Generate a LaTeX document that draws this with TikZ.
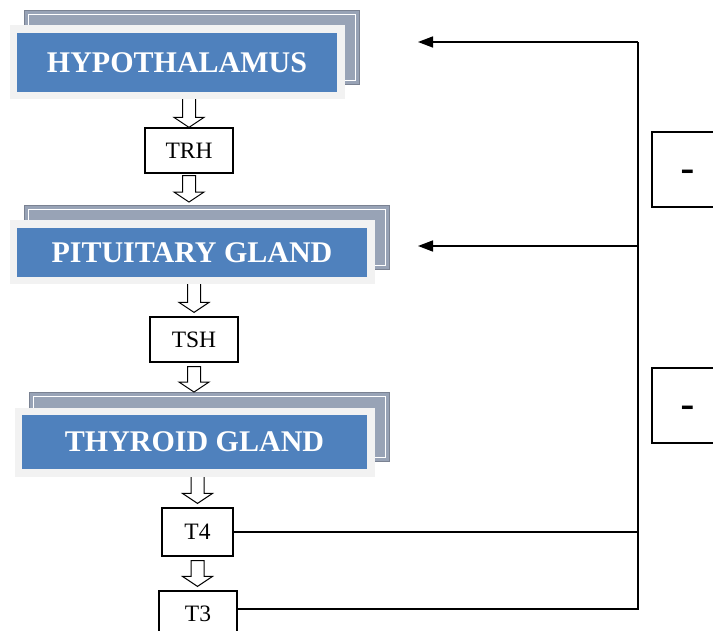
\documentclass[tikz,border=0pt]{standalone}
\usepackage{fontspec}
\setmainfont{Liberation Serif}
\newfontfamily\signfont{Liberation Sans}
\usetikzlibrary{arrows.meta,positioning,calc,fit,backgrounds}
\definecolor{glandblue}{HTML}{4F81BD}
\definecolor{framegray}{HTML}{F2F2F2}
\definecolor{shadegray}{HTML}{98A3B6}
\definecolor{linegray}{HTML}{000000}
\tikzset{
  gland/.style={
    rectangle,
    fill=glandblue,
    preaction={draw=framegray, line width=15pt},
    text=white,
    inner sep=0pt,
    font=\fontsize{30}{36}\selectfont\bfseries
  },
  glandshade/.style={
    rectangle,
    fill=shadegray,
    draw=shadegray!80!black,
    line width=0.5pt,
    inner sep=7.5pt,
    xshift=15pt,
    yshift=15pt,
    path picture={
      \draw[white, line width=0.8pt]
        ([shift={(4pt,-4pt)}]path picture bounding box.north west) rectangle
        ([shift={(-4pt,4pt)}]path picture bounding box.south east);
    }
  },
  hormone/.style={
    rectangle,
    draw=black,
    fill=white,
    line width=1.2pt,
    inner sep=0pt,
    font=\fontsize{23.5}{28}\selectfont
  },
  signbox/.style={
    rectangle,
    draw=black,
    line width=1.3pt,
    inner sep=0pt,
    minimum width=72pt,
    minimum height=75pt,
    text height=29pt,
    text depth=0pt,
    font=\signfont\fontsize{44}{44}\selectfont
  },
  blockarrow/.style={draw=black, fill=white, line width=1pt, line join=miter},
  fbline/.style={draw=linegray, line width=1.5pt},
  fbarrow/.style={fbline, -{Triangle[length=15pt, width=11pt]}}
}
% hollow down arrow between two points, tip at the second one
\newcommand{\downblock}[2]{%
  \draw[blockarrow] let \p1=(#1), \p2=(#2) in
    (\x1-6.5pt,\y1) -- (\x1-6.5pt,\y2+10pt) -- (\x1-15pt,\y2+10pt) -- (\x1,\y2)
    -- (\x1+15pt,\y2+10pt) -- (\x1+6.5pt,\y2+10pt) -- (\x1+6.5pt,\y1) -- cycle;}

\begin{document}
\begin{tikzpicture}[x=1pt, y=-1pt]
  \useasboundingbox (0,0) rectangle (713,631);

  % glands
  \node[gland, minimum width=320pt, minimum height=59pt] (hyp) at (177,62.5) {HYPOTHALAMUS};
  \node[gland, minimum width=350pt, minimum height=49pt] (pit) at (192,252.5) {PITUITARY GLAND};
  \node[gland, minimum width=345pt, minimum height=54pt] (thy) at (194.5,442) {THYROID GLAND};

  % hormones
  \node[hormone, minimum width=88pt, minimum height=45pt] (trh) at (189,150.5) {TRH};
  \node[hormone, minimum width=88pt, minimum height=45pt] (tsh) at (194,339.5) {TSH};
  \node[hormone, minimum width=71pt, minimum height=48pt] (t4) at (197.5,532) {T4};
  \node[hormone, minimum width=78pt, minimum height=46pt] (t3) at (198,614) {T3};

  % negative feedback
  \node[signbox] (neg1) at (688,169.5) {-};
  \node[signbox] (neg2) at (688,405.5) {-};

  \coordinate (loop) at (638,42);
  \coordinate (hyptip) at (418,42);
  \coordinate (pittip) at (418,246);

  \draw[fbline] ([yshift=5pt]t3.east) -| (loop);
  \draw[fbline] (t4.east) -- (t4.east -| loop);
  \draw[fbarrow] (loop) -- (hyptip);
  \draw[fbarrow] (loop |- pittip) -- (pittip);

  \begin{scope}[on background layer]
    \node[glandshade, fit=(hyp)] (hypshade) {};
    \node[glandshade, fit=(pit)] (pitshade) {};
    \node[glandshade, fit=(thy)] (thyshade) {};

    \downblock{trh.north |- hyp.south}{trh.north}
    \downblock{$(trh.south)+(0,2)$}{$(trh.south |- pitshade.north)+(0,-3)$}
    \downblock{tsh.north |- pit.south}{$(tsh.north)+(0,-4)$}
    \downblock{$(tsh.south)+(0,4)$}{tsh.south |- thyshade.north}
    \downblock{t4.north |- thy.south}{$(t4.north)+(0,-4)$}
    \downblock{$(t4.south)+(0,4)$}{$(t3.north)+(0,-4)$}
  \end{scope}
\end{tikzpicture}
\end{document}
